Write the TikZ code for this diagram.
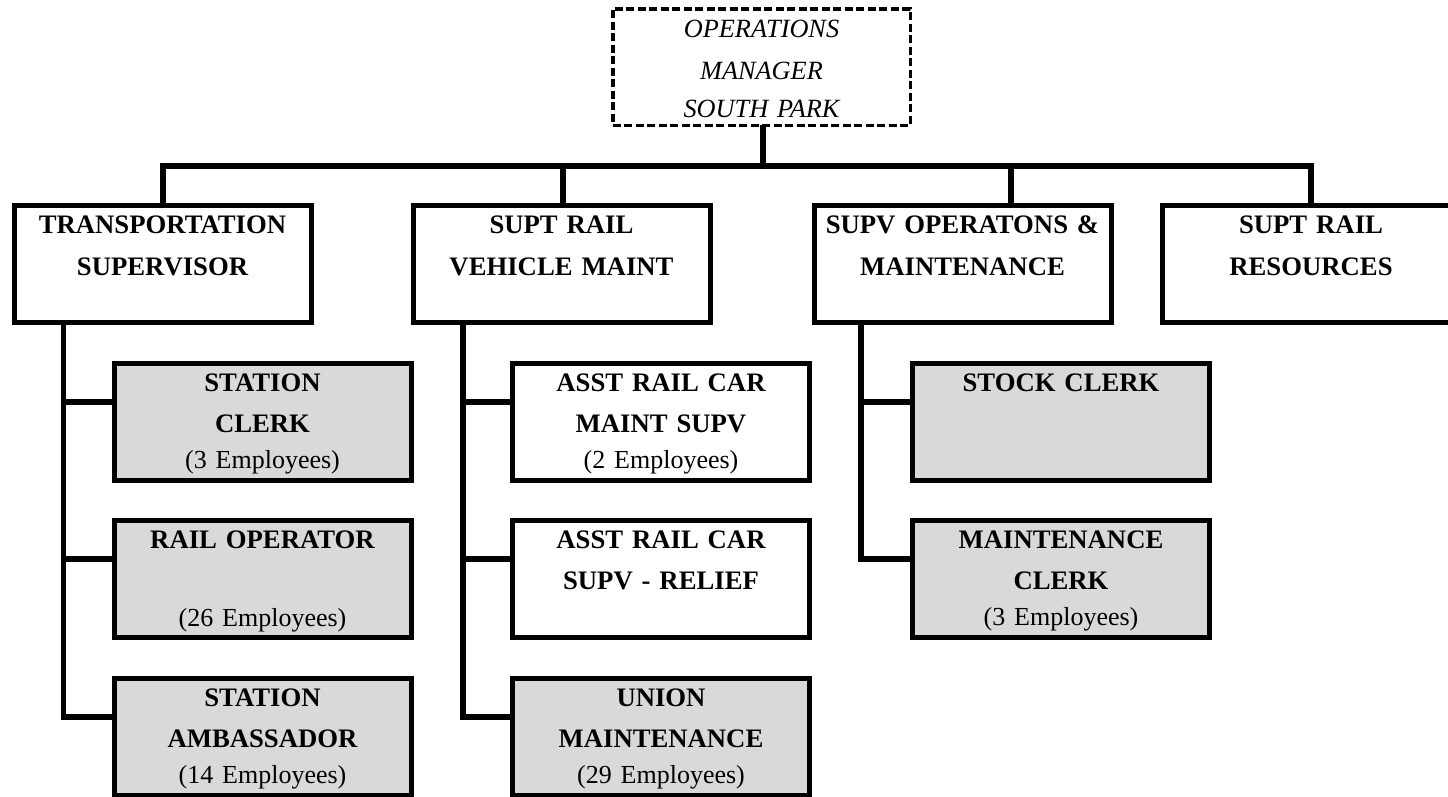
\documentclass[tikz,border=0pt]{standalone}
\usepackage{fontspec}
\setmainfont{Liberation Serif}
\definecolor{staffgray}{HTML}{D9D9D9}
\newcommand\headcount[1]{{\fontsize{26}{41}\selectfont\mdseries #1}}
\begin{document}
\begin{tikzpicture}[x=1pt,y=-1pt,
  box/.style={draw, line width=5pt, inner sep=0pt, outer sep=0pt,
    text width=297pt, align=center, text height=27.5pt, text depth=89.5pt,
    font=\fontsize{26.7}{41}\selectfont\bfseries},
  headbox/.style={box, font=\fontsize{26.7}{42.5}\selectfont\bfseries},
  staffbox/.style={box, fill=staffgray},
  mgrbox/.style={draw, dashed, dash pattern=on 8pt off 3.5pt, line width=3.5pt,
    inner sep=0pt, outer sep=0pt, text width=297.5pt, align=center,
    text height=28.25pt, text depth=88.25pt,
    font=\fontsize{26.3}{42}\selectfont\itshape},
  conn/.style={line width=5.5pt, line join=miter},
  bar/.style={line width=6pt, line join=miter}]

\path[use as bounding box] (0,0) rectangle (1448,796);
\clip (0,0) rectangle (1448,796);

% manager
\node[mgrbox] (mgr) at (761.5,67) {OPERATIONS\\MANAGER\\[-4pt]SOUTH PARK};

% department heads
\node[headbox] (trans) at (162.5,264) {TRANSPORTATION\\SUPERVISOR};
\node[headbox] (veh)   at (561.5,264) {SUPT RAIL\\VEHICLE MAINT};
\node[headbox] (supv)  at (962.5,264) {SUPV OPERATONS \&\\MAINTENANCE};
\node[headbox] (res)   at (1311,264)  {SUPT RAIL\\RESOURCES};

% transportation staff
\node[staffbox] (clerk) at (262.5,422) {STATION\\CLERK\\[-5pt]\headcount{(3 Employees)}};
\node[staffbox] (railop) at (262.5,579) {RAIL OPERATOR\\[37pt]\headcount{(26 Employees)}};
\node[staffbox] (amb) at (262.5,737) {STATION\\AMBASSADOR\\[-5pt]\headcount{(14 Employees)}};

% vehicle maintenance staff
\node[box] (asst) at (661,422) {ASST RAIL CAR\\MAINT SUPV\\[-5pt]\headcount{(2 Employees)}};
\node[box] (relief) at (661,579) {ASST RAIL CAR\\SUPV - RELIEF};
\node[staffbox] (union) at (661,737) {UNION\\MAINTENANCE\\[-5pt]\headcount{(29 Employees)}};

% operations & maintenance staff
\node[staffbox] (stock) at (1061,422) {STOCK CLERK};
\node[staffbox] (mclerk) at (1061,579) {MAINTENANCE\\CLERK\\[-5pt]\headcount{(3 Employees)}};

% top-level bus
\coordinate (hub) at (763,166);
\coordinate (d1) at (163,166);
\coordinate (d2) at (563,166);
\coordinate (d3) at (1011,166);
\coordinate (d4) at (1311,166);
\draw[conn] (mgr.south -| hub) -- (hub);
\draw[bar] (trans.north -| d1) -- (d1) -- (d4) -- (res.north -| d4);
\draw[conn] (veh.north -| d2) -- (d2);
\draw[conn] (supv.north -| d3) -- (d3);

% department branches
\coordinate (v1) at (63.5,0);
\coordinate (v2) at (463,0);
\coordinate (v3) at (861,0);
\path ([yshift=20pt]clerk.west) coordinate (clerkin)
      ([yshift=20pt]railop.west) coordinate (railopin)
      ([yshift=20pt]amb.west) coordinate (ambin)
      ([yshift=20pt]asst.west) coordinate (asstin)
      ([yshift=20pt]relief.west) coordinate (reliefin)
      ([yshift=20pt]union.west) coordinate (unionin)
      ([yshift=20pt]stock.west) coordinate (stockin)
      ([yshift=20pt]mclerk.west) coordinate (mclerkin);

\draw[conn] (trans.south -| v1) |- (ambin);
\draw[conn] (clerkin -| v1) -- (clerkin);
\draw[conn] (railopin -| v1) -- (railopin);

\draw[conn] (veh.south -| v2) |- (unionin);
\draw[conn] (asstin -| v2) -- (asstin);
\draw[conn] (reliefin -| v2) -- (reliefin);

\draw[conn] (supv.south -| v3) |- (mclerkin);
\draw[conn] (stockin -| v3) -- (stockin);
\end{tikzpicture}
\end{document}
